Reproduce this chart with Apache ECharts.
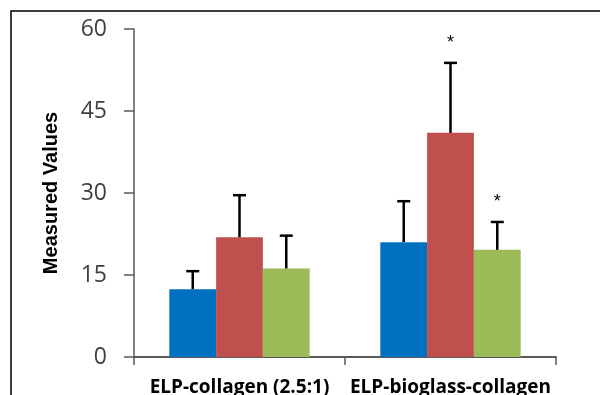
<!DOCTYPE html>
<html><head><meta charset="utf-8">
<script src="https://cdn.jsdelivr.net/npm/echarts@6/dist/echarts.min.js"></script>
<style>html,body{margin:0;padding:0;background:#fff}#c{width:600px;height:395px}</style>
</head><body><div id="c"></div>
<script>
const categories = ['ELP-collagen (2.5:1)', 'ELP-bioglass-collagen'];
const seriesNames = ['Blue', 'Red', 'Green'];
const blueValues = [12.4, 21.0];
const redValues = [21.9, 41.0];
const greenValues = [16.2, 19.6];
const blueErr = [3.3, 7.5];
const redErr = [7.7, 12.8];
const greenErr = [6.0, 5.1];
const blueMark = ['', ''];
const redMark = ['', '*'];
const greenMark = ['', '*'];
const yTicks = [0, 15, 30, 45, 60];

const colors = ['#0070C0', '#C0504D', '#9BBB59'];
const vals = [blueValues, redValues, greenValues];
const errs = [blueErr, redErr, greenErr];
const marks = [blueMark, redMark, greenMark];

const chart = echarts.init(document.getElementById('c'), null, {renderer: 'canvas'});
const series = [];
vals.forEach((v, i) => {
  series.push({
    name: seriesNames[i], type: 'bar', data: v, barGap: '0%', barCategoryGap: '33.5%',
    itemStyle: {color: colors[i]}, z: 2
  });
});
const nS = 3;
vals.forEach((v, i) => {
  series.push({
    type: 'custom', z: 5,
    data: v.map((val, k) => [k, val, val + errs[i][k]]),
    encode: {x: 0, y: [1, 2]},
    renderItem: function (params, api) {
      const k = api.value(0);
      const base = api.coord([k, api.value(1)]);
      const top = api.coord([k, api.value(2)]);
      const bw = api.size([1, 0])[0] * (1 - 0.335) / nS;
      const cx = base[0] + (i - 1) * bw;
      const cap = 6.5;
      const children = [
        {type: 'line', shape: {x1: cx, y1: base[1], x2: cx, y2: top[1]}, style: {stroke: '#000', lineWidth: 2.5}},
        {type: 'line', shape: {x1: cx - cap, y1: top[1], x2: cx + cap, y2: top[1]}, style: {stroke: '#000', lineWidth: 2.5}}
      ];
      const m = marks[i][k];
      if (m) {
        children.push({type: 'text', style: {text: m, x: cx, y: top[1] - 20, align: 'center', verticalAlign: 'middle', font: '18px "Liberation Sans", Arial', fill: '#000'}});
      }
      return {type: 'group', children: children};
    }
  });
});

chart.setOption({
  animation: false,
  graphic: [{type: 'rect', shape: {x: 11, y: 11, width: 620, height: 420}, style: {fill: 'none', stroke: '#000', lineWidth: 1.5}, z: 100}],
  grid: {left: 134, top: 29, right: 44, bottom: 38, containLabel: false, outerBoundsMode: 'none'},
  xAxis: {
    type: 'category', data: categories,
    axisLine: {lineStyle: {color: '#595959', width: 2}},
    axisTick: {show: true, length: 8, lineStyle: {color: '#595959', width: 1.5}},
    axisLabel: {interval: 0, hideOverlap: false, color: '#000', fontFamily: 'Open Sans', fontWeight: 'bold', fontSize: 19, margin: 21}
  },
  yAxis: {
    type: 'value', min: yTicks[0], max: yTicks[yTicks.length - 1], interval: 15,
    name: 'Measured Values', nameLocation: 'middle', nameGap: 73,
    nameTextStyle: {color: '#000', fontFamily: 'Liberation Sans', fontWeight: 'bold', fontSize: 20},
    axisLine: {show: true, lineStyle: {color: '#595959', width: 1.5}},
    axisTick: {show: true, length: 10, lineStyle: {color: '#595959', width: 1.5}},
    splitLine: {show: false},
    axisLabel: {color: '#404040', fontFamily: 'Open Sans', fontSize: 23, margin: 27}
  },
  series: series
});
</script></body></html>
